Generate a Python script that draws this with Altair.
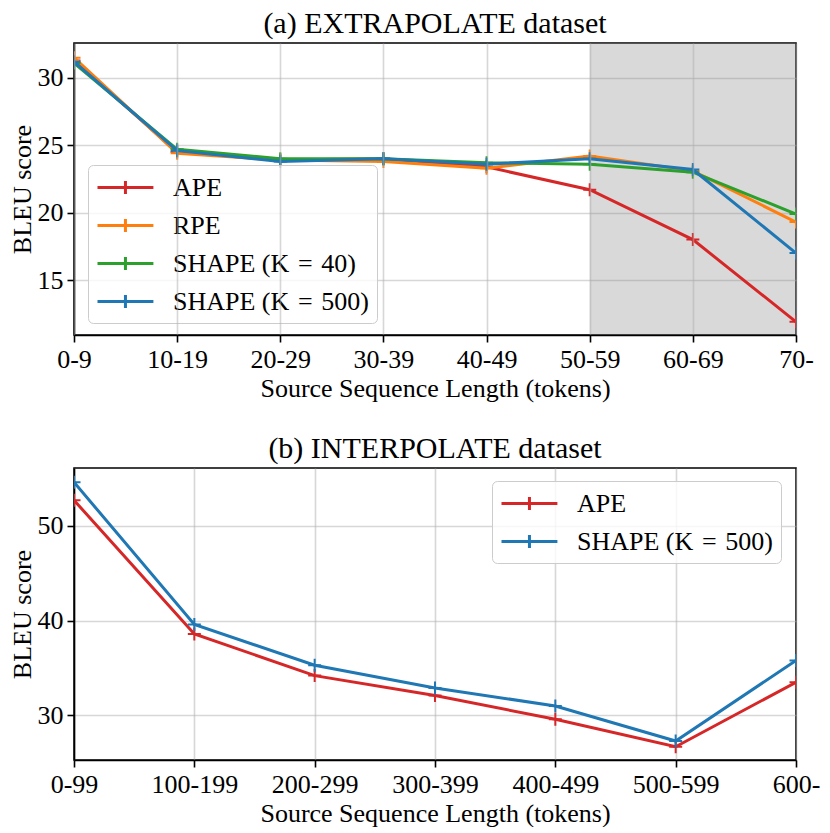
import altair as alt
import pandas as pd

FONT = "Liberation Serif"

# ---- data ----
bins_a = ["0-9", "10-19", "20-29", "30-39", "40-49", "50-59", "60-69", "70-"]
ape_a = [31.3, 24.5, 23.9, 24.0, 23.4, 21.7, 18.0, 11.9]
rpe_a = [31.5, 24.4, 23.9, 23.8, 23.3, 24.2, 23.1, 19.3]
shape40_a = [31.1, 24.7, 24.0, 24.0, 23.7, 23.6, 23.0, 19.9]
shape500_a = [31.2, 24.6, 23.8, 24.0, 23.6, 24.0, 23.2, 17.0]
names_a = ["APE", "RPE", "SHAPE (K\u2004=\u200440)", "SHAPE (K\u2004=\u2004500)"]
colors_a = ["#d62728", "#ff7f0e", "#2ca02c", "#1f77b4"]
shade_a = ["50-59", "70-"]

bins_b = ["0-99", "100-199", "200-299", "300-399", "400-499", "500-599", "600-"]
ape_b = [52.7, 38.6, 34.2, 32.1, 29.6, 26.7, 33.5]
shape500_b = [54.6, 39.6, 35.3, 32.9, 31.0, 27.3, 35.8]
names_b = ["APE", "SHAPE (K\u2004=\u2004500)"]
colors_b = ["#d62728", "#1f77b4"]

PLUS = "M-1,0H1M0,-1V1"
# legend sample: a 56px line with a small "+" in its middle, drawn in a 26px symbol box
LEG_SYM = "M-1,0H3.3M1.15,-0.5V0.5"

W, H = 722, 292
FS = 26


def panel(bins, series, names, colors, ydomain, yticks, title, shade, lx, ly):
    rows = []
    for n, vals in zip(names, series):
        for b, v in zip(bins, vals):
            rows.append({"bin": b, "score": v, "method": n})
    df = pd.DataFrame(rows)
    xaxis = alt.Axis(title="Source Sequence Length (tokens)", labelAngle=0, grid=True)
    xscale = alt.Scale(type="point", padding=0, domain=bins)
    xenc = alt.X("bin:N", sort=bins, scale=xscale, axis=xaxis)
    yenc = alt.Y("score:Q", scale=alt.Scale(domain=ydomain, nice=False, zero=False),
                 axis=alt.Axis(title="BLEU score", values=yticks, grid=True))
    color = alt.Color(
        "method:N",
        scale=alt.Scale(domain=names, range=colors),
        legend=alt.Legend(
            title=None, orient="none", legendX=lx, legendY=ly,
            symbolType=LEG_SYM, symbolSize=676, symbolStrokeWidth=3,
            labelFont=FONT, labelFontSize=FS, labelOffset=48, rowPadding=10,
            padding=8, fillColor="rgba(255,255,255,0.8)", strokeColor="#cccccc",
            cornerRadius=5, labelLimit=400, labelColor="black",
        ),
    )
    layers = []
    if shade is not None:
        sdf = pd.DataFrame({"start": [shade[0]], "end": [shade[1]]})
        rect = alt.Chart(sdf).mark_rect(color="gray", opacity=0.3).encode(
            x=alt.X("start:N", sort=bins, scale=xscale, axis=xaxis), x2="end:N"
        )
        layers.append(rect)
    for n in names:
        base = alt.Chart(df).transform_filter(alt.datum.method == n)
        line = base.mark_line(strokeWidth=3, clip=True).encode(x=xenc, y=yenc, color=color)
        pts = base.mark_point(shape=PLUS, filled=False, size=169, strokeWidth=2,
                              opacity=1, clip=True).encode(x=xenc, y=yenc, color=color)
        layers += [line, pts]
    return alt.layer(*layers).properties(
        width=W, height=H,
        title=alt.Title(title, font=FONT, fontSize=30, fontWeight="normal", offset=4, color="black"),
    )


top = panel(bins_a, [ape_a, rpe_a, shape40_a, shape500_a], names_a, colors_a,
            [10.92, 32.59], [15, 20, 25, 30], "(a) EXTRAPOLATE dataset", shade_a, 14, 122)
bottom = panel(bins_b, [ape_b, shape500_b], names_b, colors_b,
               [25.3, 56.1], [30, 40, 50], "(b) INTERPOLATE dataset", None, 418, 13)

chart = (
    alt.vconcat(top, bottom, spacing=31, padding=0)
    .resolve_scale(x="independent", y="independent", color="independent")
    .resolve_legend(color="independent")
    .configure(font=FONT)
    .configure_axis(
        labelFont=FONT, labelFontSize=FS, titleFont=FONT, titleFontSize=FS,
        titleFontWeight="normal", labelColor="black", titleColor="black",
        domainColor="black", domainWidth=1.6, tickColor="black", tickWidth=1.6,
        tickSize=7, labelPadding=4, gridColor="#b0b0b0", gridOpacity=0.5, gridWidth=1.6,
    )
    .configure_axisY(titlePadding=2)
    .configure_axisX(titlePadding=3)
    .configure_view(stroke="black", strokeWidth=1.6)
)

chart.save("out.html", embed_options={"renderer": "svg", "actions": False})
